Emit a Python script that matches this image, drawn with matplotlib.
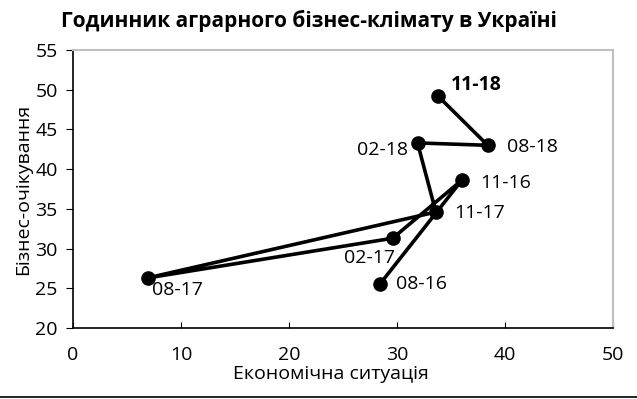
import matplotlib.pyplot as plt
from matplotlib.lines import Line2D

# Data (in time order)
periods = ['08-16', '11-16', '02-17', '08-17', '11-17', '02-18', '08-18', '11-18']
econ = [28.4, 36.0, 29.6, 6.9, 33.6, 31.9, 38.4, 33.8]
business = [25.5, 38.6, 31.3, 26.3, 34.6, 43.3, 43.0, 49.2]

# label offsets (points) and alignment for each period
offsets = {
    '08-16': (12, 0, 'left', 'center'),
    '11-16': (13, -2, 'left', 'center'),
    '02-17': (-17, -14, 'center', 'center'),
    '08-17': (3, -9, 'left', 'center'),
    '11-17': (13, -1, 'left', 'center'),
    '02-18': (-7, -5, 'right', 'center'),
    '08-18': (14, -1, 'left', 'center'),
    '11-18': (9, 8, 'left', 'center'),
}

plt.rcParams['font.family'] = ['Open Sans', 'DejaVu Sans']
fs = 14

fig = plt.figure(figsize=(6.37, 3.99), dpi=100)
ax = fig.add_axes([0.1146, 0.178, 0.8477, 0.6967])

ax.plot(econ, business, color='black', linewidth=2.6, marker='o',
        markersize=9.5, solid_joinstyle='round', zorder=3)

for name, x, y in zip(periods, econ, business):
    dx, dy, ha, va = offsets[name]
    ax.annotate(name, (x, y), xytext=(dx, dy), textcoords='offset points',
                ha=ha, va=va, fontsize=fs,
                fontweight='bold' if name == '11-18' else 'normal')

ax.set_xlim(0, 50)
ax.set_ylim(20, 55)
ax.set_xticks(range(0, 51, 10))
ax.set_yticks(range(20, 56, 5))
ax.tick_params(axis='x', direction='in', length=4, labelsize=fs, pad=13, color='black')
ax.tick_params(axis='y', direction='out', length=5, labelsize=fs, pad=6, color='black')

for side in ['top', 'right']:
    ax.spines[side].set_color('#bfbfbf')
    ax.spines[side].set_linewidth(1.5)
for side in ['left', 'bottom']:
    ax.spines[side].set_color('black')
    ax.spines[side].set_linewidth(1.2)

ax.set_xlabel('Економічна ситуація', fontsize=fs, labelpad=1)
ax.xaxis.label.set_x(0.478)
ax.set_ylabel('Бізнес-очікування', fontsize=fs, labelpad=2)
fig.suptitle('Годинник аграрного бізнес-клімату в Україні', fontsize=15,
             fontweight='bold', x=0.485, y=0.975)

# thin frame line along the bottom edge of the picture
fig.add_artist(Line2D([0, 1], [0.006, 0.006], transform=fig.transFigure,
                      color='black', linewidth=1.2))

fig.savefig('out.png', dpi=100)
